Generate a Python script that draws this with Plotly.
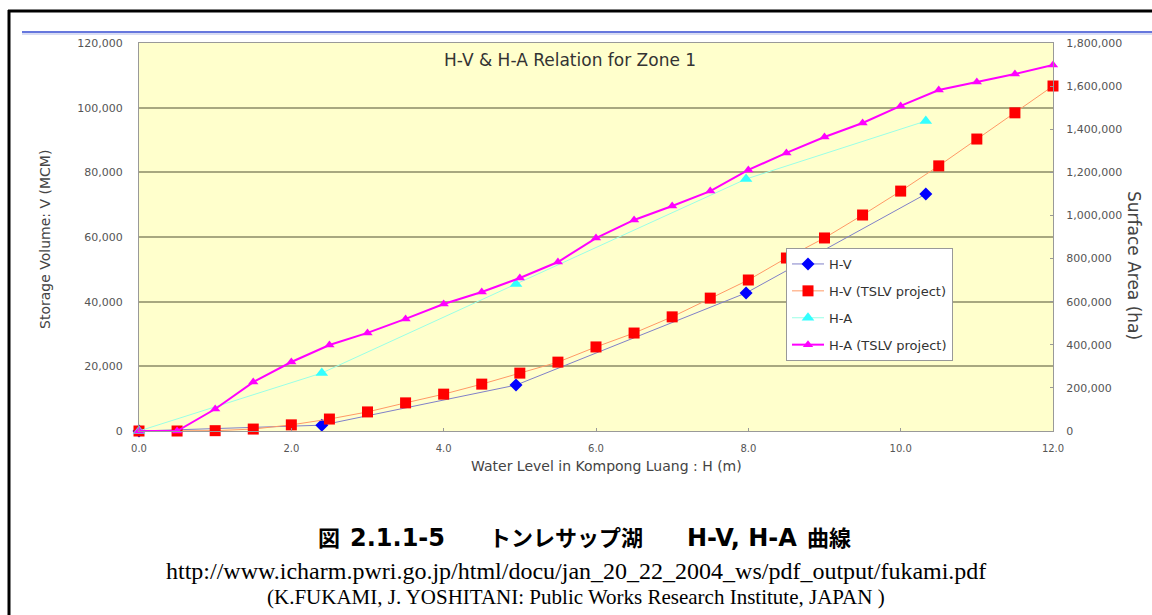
import plotly.graph_objects as go

# Water level H (m)
h_tslv = [0.0, 0.5, 1.0, 1.5, 2.0, 2.5, 3.0, 3.5, 4.0, 4.5, 5.0, 5.5, 6.0,
          6.5, 7.0, 7.5, 8.0, 8.5, 9.0, 9.5, 10.0, 10.5, 11.0, 11.5, 12.0]
h_obs = [0.0, 2.4, 4.95, 7.97, 10.33]

# Storage volume V (MCM)
v_obs = [0, 1800, 14200, 42700, 73300]
v_tslv = [0, 0, 100, 600, 1900, 3700, 5900, 8700, 11400, 14500, 17900, 21300,
          26000, 30300, 35300, 41100, 46700, 53500, 59700, 66800, 74200, 82000,
          90300, 98400, 106700]

# Surface area A (ha)
a_obs = [0, 269000, 682000, 1169000, 1438000]
a_tslv = [0, 0, 102000, 227000, 320000, 399000, 455000, 520000, 589000, 645000,
          710000, 784000, 895000, 979000, 1044000, 1113000, 1211000, 1290000,
          1364000, 1429000, 1508000, 1582000, 1619000, 1656000, 1698000]

W, H = 1152, 615
L, R, T, B = 139, 99, 43, 184
PW, PH = W - L - R, H - T - B


def px(x):
    return (x - L) / PW


def py(y):
    return (H - B - y) / PH


fig = go.Figure()
fig.add_trace(go.Scatter(
    x=h_obs, y=v_obs, name="H-V", mode="lines+markers", legendgroup="a",
    line=dict(color="#8080C8", width=1),
    marker=dict(symbol="diamond", size=10, color="#0000FF"), cliponaxis=False))
fig.add_trace(go.Scatter(
    x=h_tslv, y=v_tslv, name="H-V (TSLV project)", mode="lines+markers", legendgroup="b",
    line=dict(color="#FF9966", width=1),
    marker=dict(symbol="square", size=11, color="#FF0000"), cliponaxis=False))
fig.add_trace(go.Scatter(
    x=h_obs, y=a_obs, name="H-A", mode="lines+markers", yaxis="y2", legendgroup="c",
    line=dict(color="#99FFE6", width=1),
    marker=dict(symbol="triangle-up", size=11, color="#33FFFF"), cliponaxis=False))
fig.add_trace(go.Scatter(
    x=h_tslv, y=a_tslv, name="H-A (TSLV project)", mode="lines+markers", yaxis="y2",
    legendgroup="d",
    line=dict(color="#FF00FF", width=2),
    marker=dict(symbol="triangle-up", size=9, color="#FF00FF"), cliponaxis=False))

sans = "DejaVu Sans, Noto Sans"
tick_font = dict(family=sans, size=11, color="#555555")

fig.update_layout(
    width=W, height=H,
    margin=dict(l=L, r=R, t=T, b=B),
    paper_bgcolor="white",
    plot_bgcolor="#FFFFCC",
    showlegend=True,
    legend=dict(
        x=px(786), y=py(248), xanchor="left", yanchor="top",
        bgcolor="white", bordercolor="#999999", borderwidth=1,
        font=dict(family=sans, size=13, color="#333333"),
        traceorder="grouped", tracegroupgap=7, itemwidth=32,
    ),
    xaxis=dict(
        range=[0, 12], tickvals=[0, 2, 4, 6, 8, 10, 12], tickformat=".1f",
        showgrid=False, zeroline=False, showline=True, linecolor="#999999",
        linewidth=1, mirror=True, ticks="inside", ticklen=3, tickcolor="#999999",
        tickfont=dict(family=sans, size=10, color="#555555"), ticklabelstandoff=8,
    ),
    yaxis=dict(
        range=[0, 120000], tickvals=[0, 20000, 40000, 60000, 80000, 100000, 120000],
        tickformat=",d", showgrid=True, gridcolor="#A8A880", gridwidth=2,
        zeroline=False, showline=True, linecolor="#999999", linewidth=1,
        ticks="", tickfont=tick_font, ticklabelstandoff=13,
    ),
    yaxis2=dict(
        range=[0, 1800000], overlaying="y", side="right",
        tickvals=[0, 200000, 400000, 600000, 800000, 1000000, 1200000, 1400000,
                  1600000, 1800000],
        tickformat=",d", showgrid=False, zeroline=False, showline=True,
        linecolor="#999999", linewidth=1, ticks="inside", ticklen=3,
        tickcolor="#999999", tickfont=tick_font, ticklabelstandoff=10,
    ),
    font=dict(family=sans),
)


def label(text, x, y, size, color="#444444", family=sans, angle=0):
    fig.add_annotation(text=text, xref="paper", yref="paper", x=px(x), y=py(y),
                       xanchor="center", yanchor="middle", showarrow=False,
                       textangle=angle, font=dict(family=family, size=size, color=color))


# Chart title and axis titles
label("H-V & H-A Relation for Zone 1", 570, 60, 17, "#333333")
label("Water Level in Kompong Luang : H (m)", 606, 466, 14)
label("Storage Volume: V (MCM)", 45, 240, 14, angle=-90)
label("Surface Area (ha)", 1134, 265, 17, angle=90)

# Figure caption (Latin parts set in a wider bold sans) and source lines
lat = "<span style='font-family:DejaVu Sans;font-size:24px'>{}</span>"
caption = ("<b>図&nbsp;&nbsp;" + lat.format("2.1.1-5") + "　　トンレサップ湖　　"
           + lat.format("H-V, H-A") + "&nbsp;&nbsp;曲線</b>")
label(caption, 584, 536, 22, "black", "Noto Sans CJK JP")
label("http://www.icharm.pwri.go.jp/html/docu/jan_20_22_2004_ws/pdf_output/fukami.pdf",
      576, 571, 24, "black", "Liberation Serif")
label("(K.FUKAMI, J. YOSHITANI: Public Works Research Institute, JAPAN )",
      576, 597, 21, "black", "Liberation Serif")

# Page frame and header rule
fig.add_shape(type="line", xref="paper", yref="paper", x0=px(8), x1=px(1152),
              y0=py(11), y1=py(11), line=dict(color="black", width=3))
fig.add_shape(type="line", xref="paper", yref="paper", x0=px(9), x1=px(9),
              y0=py(10), y1=py(615), line=dict(color="black", width=3))
fig.add_shape(type="line", xref="paper", yref="paper", x0=px(22), x1=px(1152),
              y0=py(32), y1=py(32), line=dict(color="#6677DD", width=2))
fig.add_shape(type="line", xref="paper", yref="paper", x0=px(22), x1=px(1152),
              y0=py(34), y1=py(34), line=dict(color="#D8DCF4", width=2))

fig.write_html("out.html")
